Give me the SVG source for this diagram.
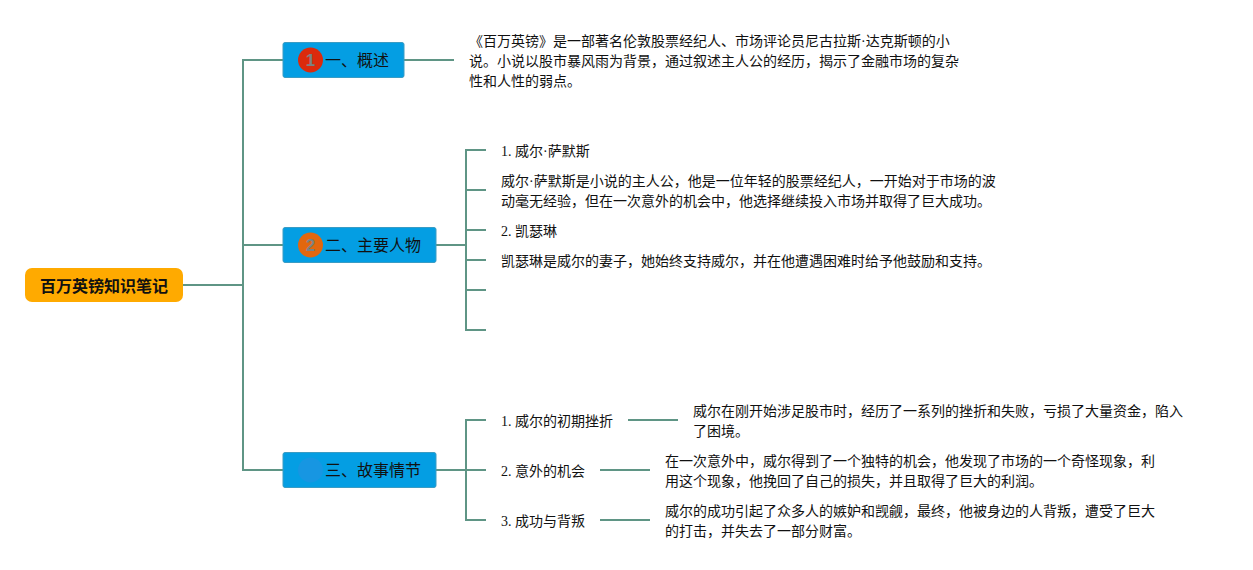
<svg xmlns="http://www.w3.org/2000/svg" width="1253" height="570" viewBox="0 0 1253 570">
<style>
text{font-family:"Liberation Serif","Noto Sans CJK SC",serif;fill:#111}
.c{fill:none;stroke:#5f9585;stroke-width:2}
.t{fill:#049ee3;stroke:#3a9cc4;stroke-width:1}
.h{font-size:16px}
.b{font-size:14px}
.n{font-family:"Liberation Sans",sans-serif;font-size:17px;font-weight:700;fill:#7d8282}
</style>
<rect width="1253" height="570" fill="#fff"/>
<g id="connectors">
<path class="c" d="M183 285H243M283 60H243V470H283M243 245H283"/>
<path class="c" d="M404 60H454"/>
<path class="c" d="M436 245H466M486 150H466V330H486M466 190H486M466 230H486M466 260H486M466 290H486"/>
<path class="c" d="M436 470H466M486 420H466V520H486M466 470H486"/>
<path class="c" d="M628 420H678M600 470H650M600 520H650"/>
</g>
<g id="root"><rect x="25" y="268" width="158" height="34" rx="7" fill="#ffaa00"/><text x="40" y="292" font-size="16" font-weight="700">百万英镑知识笔记</text></g>
<g id="topic1"><rect class="t" x="283" y="42.500" width="121" height="35" rx="2"/><circle cx="310.500" cy="60" r="12.500" fill="#dc2a0c"/><text class="n" x="310.500" y="66" text-anchor="middle">1</text><text class="h" x="325" y="66">一、概述</text></g>
<g id="topic2"><rect class="t" x="283" y="227.500" width="153" height="35" rx="2"/><circle cx="310.500" cy="245" r="12.500" fill="#e2670f"/><text class="n" x="310.500" y="251" text-anchor="middle">2</text><text class="h" x="325" y="251">二、主要人物</text></g>
<g id="topic3"><rect class="t" x="283" y="452.500" width="153" height="35" rx="2"/><circle cx="310.500" cy="470" r="12.500" fill="#1796e2"/><text class="h" x="325" y="476">三、故事情节</text></g>
<g id="summary"><text class="b" x="469" y="46">《百万英镑》是一部著名伦敦股票经纪人、市场评论员尼古拉斯·达克斯顿的小</text><text class="b" x="469" y="66">说。小说以股市暴风雨为背景，通过叙述主人公的经历，揭示了金融市场的复杂</text><text class="b" x="469" y="86">性和人性的弱点。</text></g>
<g id="char1"><text class="b" x="501" y="156">1. 威尔·萨默斯</text></g>
<g id="char1-desc"><text class="b" x="501" y="186">威尔·萨默斯是小说的主人公，他是一位年轻的股票经纪人，一开始对于市场的波</text><text class="b" x="501" y="206">动毫无经验，但在一次意外的机会中，他选择继续投入市场并取得了巨大成功。</text></g>
<g id="char2"><text class="b" x="501" y="236">2. 凯瑟琳</text></g>
<g id="char2-desc"><text class="b" x="501" y="266">凯瑟琳是威尔的妻子，她始终支持威尔，并在他遭遇困难时给予他鼓励和支持。</text></g>
<g id="plot1"><text class="b" x="501" y="426">1. 威尔的初期挫折</text></g>
<g id="plot1-desc"><text class="b" x="693" y="416">威尔在刚开始涉足股市时，经历了一系列的挫折和失败，亏损了大量资金，陷入</text><text class="b" x="693" y="436">了困境。</text></g>
<g id="plot2"><text class="b" x="501" y="476">2. 意外的机会</text></g>
<g id="plot2-desc"><text class="b" x="665" y="466">在一次意外中，威尔得到了一个独特的机会，他发现了市场的一个奇怪现象，利</text><text class="b" x="665" y="486">用这个现象，他挽回了自己的损失，并且取得了巨大的利润。</text></g>
<g id="plot3"><text class="b" x="501" y="526">3. 成功与背叛</text></g>
<g id="plot3-desc"><text class="b" x="665" y="516">威尔的成功引起了众多人的嫉妒和觊觎，最终，他被身边的人背叛，遭受了巨大</text><text class="b" x="665" y="536">的打击，并失去了一部分财富。</text></g>
</svg>
